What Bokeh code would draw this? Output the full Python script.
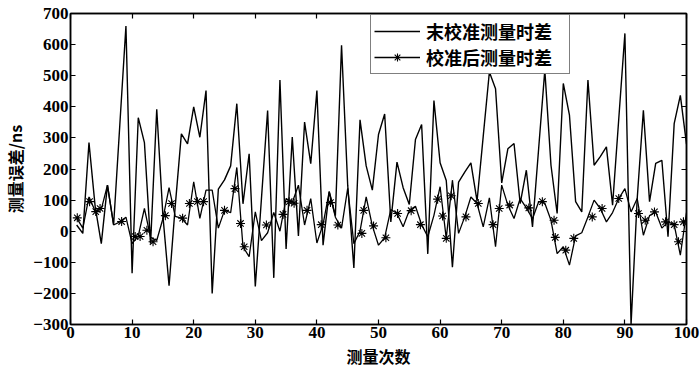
from bokeh.plotting import figure
from bokeh.models import Legend, LegendItem, LinearAxis, FixedTicker, CustomLabelingPolicy
from bokeh.embed import file_html
from bokeh.resources import INLINE

x_vals = list(range(1, 101))

uncal = [20, -7, 285, 80, -40, 148, 20, 340, 660, -135,
         365, 285, -40, 392, 50, -175, 80, 313, 281, 400,
         302, 452, -200, 135, 165, 210, 410, 88, 249, -178,
         105, 388, -150, 486, -57, 303, -15, 351, 217, 452,
         -45, 127, 50, 598, 148, -118, 358, 210, 132, 311,
         377, 30, 222, 140, 86, 295, 343, -73, 420, 220,
         163, -116, 158, 190, 220, 97, 305, 512, 458, 155,
         265, 282, 89, 196, 14, 266, 518, 212, 57, 475,
         373, 95, 62, 486, 212, 240, 271, 84, 360, 636,
         -300, 105, 389, 95, 218, 228, -18, 346, 437, 280]

calib = [43, 10, 110, 65, 70, 148, 20, 30, 45, -40,
         -15, 73, -20, -30, 40, 140, 48, 42, 20, 159,
         41, 132, 132, 10, 67, 60, 205, -50, -82, 62,
         -30, -5, 60, 0, 105, 92, 148, 20, 105, -38,
         22, 127, 45, 10, 138, -40, 0, 110, 17, -45,
         -21, 70, 57, 14, 67, 80, 21, -18, 51, 143,
         -23, 164, -7, 46, 110, 89, 14, 107, -50, 148,
         84, 41, 105, 75, 40, 95, 90, 35, -72, -50,
         -109, -15, -5, 46, 100, 73, 30, 60, 105, 137,
         62, 105, -13, 50, 62, 10, 30, 21, -77, 60]

star_x = [1.1, 3.1, 4.1, 4.8, 8.3, 10.5, 11.3, 12.4, 13.4, 15.4,
          16.4, 18.2, 19.3, 20.6, 21.6, 25.0, 26.7, 27.6, 28.2, 31.8,
          34.5, 35.5, 36.3, 38.4, 40.7, 42.2, 43.4, 47.3, 47.6, 49.2,
          51.2, 53.1, 55.3, 56.8, 59.6, 60.4, 61.0, 61.8, 64.2, 66.2,
          68.6, 69.6, 71.3, 74.4, 76.6, 78.5, 78.7, 80.4, 81.7, 84.7,
          86.3, 89.0, 92.2, 93.3, 94.8, 96.6, 98.0, 98.7, 99.5]
star_y = [43, 95, 63, 73, 31, -17, -17, 3, -34, 50,
          89, 42, 89, 95, 95, 67, 137, 25, -50, 20,
          54, 95, 90, 67, 21, 92, 20, -7, 67, 17,
          -21, 57, 66, 21, 103, 49, -23, 114, 46, 89,
          21, 73, 84, 75, 95, 35, -20, -61, -23, 46,
          73, 105, 57, 35, 62, 30, 21, -34, 30]

x_ticks = [0, 10, 20, 30, 40, 50, 60, 70, 80, 90, 100]
y_ticks = [-300, -200, -100, 0, 100, 200, 300, 400, 500, 600, 700]

series_names = ["末校准测量时差", "校准后测量时差"]
x_title = "测量次数"
y_title = "测量误差/ns"

p = figure(width=700, height=377, x_range=(0, 100), y_range=(-300, 700),
           output_backend="svg", toolbar_location=None,
           min_border_left=70, min_border_right=14, min_border_top=13,
           min_border_bottom=53)

r1 = p.line(x_vals, uncal, line_color="black", line_width=1.4)
r2 = p.line(x_vals, calib, line_color="black", line_width=1.3)
r3 = p.scatter(star_x, star_y, marker="asterisk", size=9, line_color="black",
               line_width=1.1)

serif = "'Liberation Serif', serif"
cjk = "'Noto Sans CJK SC'"

p.xgrid.visible = False
p.ygrid.visible = False
p.outline_line_color = "black"
p.outline_line_width = 1.5
p.background_fill_color = "white"
p.border_fill_color = "white"

for ax in p.xaxis:
    ax.ticker = FixedTicker(ticks=x_ticks)
for ax in p.yaxis:
    ax.ticker = FixedTicker(ticks=y_ticks)

for ax in list(p.xaxis) + list(p.yaxis):
    ax.major_tick_in = 5
    ax.major_tick_out = 0
    ax.minor_tick_line_color = None
    ax.axis_line_width = 1.5
    ax.major_tick_line_width = 1.2
    ax.major_label_text_font = serif
    ax.major_label_text_font_style = "bold"
    ax.major_label_text_font_size = "17px"
    ax.major_label_text_color = "black"
    ax.axis_label_text_font = cjk
    ax.axis_label_text_font_style = "bold"
    ax.axis_label_text_font_size = "16px"
    ax.axis_label_text_color = "black"

p.xaxis.axis_label = x_title
p.yaxis.axis_label = y_title
p.xaxis.major_label_standoff = 2
p.yaxis.major_label_standoff = 2
p.xaxis.axis_label_standoff = 3
p.yaxis.axis_label_standoff = 3

hide_labels = "for (let i = 0; i < indices.size; i++) { indices.unset(i) } return indices"

top_ax = LinearAxis(ticker=FixedTicker(ticks=x_ticks),
                    major_label_policy=CustomLabelingPolicy(code=hide_labels),
                    major_label_text_font_size="1px",
                    major_tick_in=5, major_tick_out=0, minor_tick_line_color=None,
                    major_label_standoff=0, axis_line_width=1.5, major_tick_line_width=1.2)
right_ax = LinearAxis(ticker=FixedTicker(ticks=y_ticks),
                      major_label_policy=CustomLabelingPolicy(code=hide_labels),
                      major_label_text_font_size="1px",
                      major_tick_in=5, major_tick_out=0, minor_tick_line_color=None,
                      major_label_standoff=0, axis_line_width=1.5, major_tick_line_width=1.2)
p.add_layout(top_ax, "above")
p.add_layout(right_ax, "right")

legend = Legend(items=[LegendItem(label=series_names[0], renderers=[r1]),
                       LegendItem(label=series_names[1], renderers=[r2, r3])],
                location=(300, 250))
legend.label_text_font = cjk
legend.label_text_font_style = "bold"
legend.label_text_font_size = "18px"
legend.label_text_color = "black"
legend.label_text_line_height = 1.0
legend.label_height = 20
legend.label_width = 140
legend.glyph_width = 46
legend.glyph_height = 20
legend.spacing = 0
legend.padding = 3
legend.margin = 0
legend.label_standoff = 6
legend.border_line_color = "black"
legend.border_line_width = 1
legend.background_fill_alpha = 1
p.add_layout(legend)

open("out.html", "w").write(file_html(p, INLINE))
